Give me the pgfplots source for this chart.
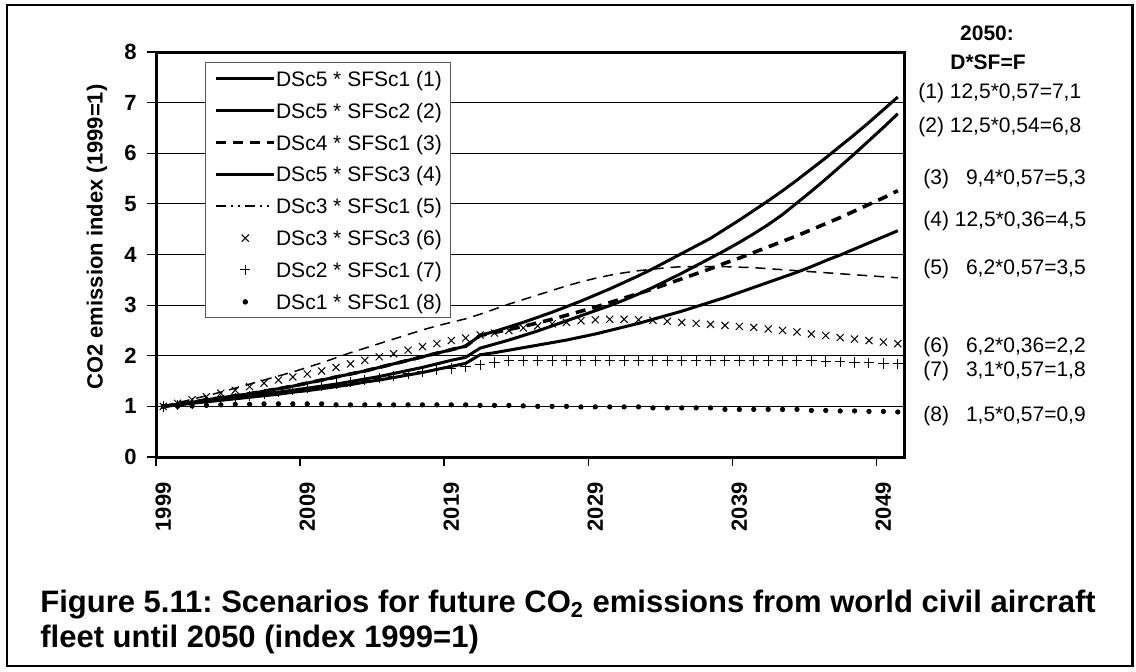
\documentclass[border=0pt]{standalone}
\usepackage{fontspec}
\setmainfont{Liberation Sans}
\usepackage{pgfplots}
\usepackage{pgfplotstable}
\pgfplotsset{compat=1.18}
\frenchspacing

\pgfplotstableread{
i s1 s2 s3 s4 s5 s6 s7 s8
0 1.00 1.00 1.00 1.00 1.00 1.00 1.00 1.00
1 1.04 1.04 1.04 1.03 1.07 1.06 1.03 1.00
2 1.08 1.07 1.08 1.06 1.14 1.13 1.06 1.01
3 1.13 1.11 1.13 1.09 1.21 1.19 1.09 1.02
4 1.17 1.15 1.17 1.12 1.28 1.26 1.12 1.03
5 1.21 1.18 1.21 1.15 1.36 1.32 1.16 1.04
6 1.25 1.21 1.25 1.18 1.44 1.39 1.20 1.04
7 1.30 1.25 1.30 1.21 1.52 1.46 1.24 1.05
8 1.35 1.28 1.35 1.24 1.60 1.52 1.28 1.05
9 1.40 1.32 1.40 1.28 1.68 1.58 1.32 1.05
10 1.46 1.36 1.46 1.31 1.77 1.64 1.36 1.05
11 1.52 1.40 1.52 1.35 1.86 1.70 1.40 1.05
12 1.58 1.44 1.58 1.39 1.96 1.77 1.44 1.03
13 1.64 1.49 1.64 1.43 2.06 1.84 1.48 1.03
14 1.70 1.54 1.70 1.48 2.15 1.91 1.52 1.03
15 1.77 1.59 1.77 1.52 2.24 1.98 1.56 1.03
16 1.84 1.65 1.84 1.57 2.33 2.04 1.60 1.03
17 1.91 1.71 1.91 1.62 2.42 2.11 1.64 1.03
18 1.98 1.77 1.98 1.67 2.51 2.18 1.68 1.03
19 2.05 1.84 2.05 1.73 2.59 2.24 1.72 1.03
20 2.12 1.91 2.12 1.79 2.66 2.30 1.75 1.03
21 2.19 1.97 2.19 1.85 2.73 2.35 1.78 1.03
22 2.40 2.15 2.40 2.02 2.82 2.41 1.82 1.02
23 2.48 2.23 2.46 2.06 2.92 2.45 1.87 1.02
24 2.57 2.31 2.52 2.11 3.02 2.50 1.90 1.02
25 2.66 2.40 2.58 2.16 3.11 2.55 1.91 1.01
26 2.76 2.49 2.65 2.21 3.20 2.59 1.91 1.00
27 2.86 2.59 2.72 2.26 3.29 2.63 1.91 1.00
28 2.97 2.69 2.80 2.31 3.38 2.66 1.91 1.00
29 3.08 2.79 2.88 2.37 3.46 2.69 1.91 0.99
30 3.20 2.89 2.96 2.43 3.53 2.71 1.91 0.99
31 3.32 2.99 3.05 2.50 3.59 2.72 1.91 0.99
32 3.45 3.10 3.14 2.57 3.64 2.72 1.91 0.99
33 3.58 3.22 3.23 2.64 3.68 2.71 1.91 0.99
34 3.72 3.35 3.32 2.72 3.71 2.70 1.91 0.97
35 3.87 3.49 3.42 2.80 3.74 2.68 1.91 0.97
36 4.02 3.63 3.52 2.88 3.76 2.66 1.91 0.97
37 4.17 3.78 3.62 2.97 3.76 2.64 1.91 0.97
38 4.32 3.93 3.72 3.06 3.76 2.62 1.91 0.97
39 4.50 4.08 3.83 3.15 3.76 2.60 1.91 0.94
40 4.68 4.24 3.93 3.25 3.75 2.58 1.91 0.94
41 4.87 4.41 4.04 3.35 3.74 2.56 1.91 0.94
42 5.06 4.59 4.15 3.45 3.72 2.53 1.91 0.94
43 5.26 4.79 4.26 3.55 3.70 2.50 1.91 0.94
44 5.47 5.02 4.37 3.65 3.68 2.47 1.91 0.94
45 5.69 5.25 4.49 3.76 3.66 2.43 1.90 0.92
46 5.91 5.49 4.61 3.88 3.64 2.40 1.89 0.92
47 6.14 5.74 4.73 3.99 3.62 2.36 1.88 0.91
48 6.37 5.99 4.86 4.11 3.60 2.33 1.87 0.91
49 6.61 6.25 4.99 4.23 3.58 2.30 1.86 0.90
50 6.86 6.51 5.12 4.35 3.56 2.27 1.85 0.90
51 7.11 6.78 5.26 4.47 3.54 2.24 1.84 0.89
}\data

\begin{document}
\begin{tikzpicture}
\path[use as bounding box] (0,0) rectangle (568pt,335.5pt);
\draw[line width=1.3pt] (3.5pt,2.5pt) rectangle (566.3pt,333pt);
\begin{axis}[
  at={(78pt,107pt)}, anchor=south west,
  scale only axis, width=374.5pt, height=202.5pt,
  xmin=-0.5, xmax=51.5, ymin=0, ymax=8,
  ytick={0,1,...,8},
  xtick={0,10,20,30,40,50},
  xticklabels={1999,2009,2019,2029,2039,2049},
  minor xtick={-0.5,9.5,19.5,29.5,39.5,49.5},
  every major x tick/.append style={draw=none},
  xtick pos=bottom, ytick pos=left,
  tick align=outside, major tick length=4.5pt, minor tick length=4.5pt,
  tick style={black, line width=0.6pt},
  ymajorgrids, grid style={black, line width=0.5pt},
  axis line style={line width=1.5pt},
  /pgf/number format/assume math mode=true,
  ticklabel style={font=\bfseries\fontsize{11}{13}\selectfont},
  xticklabel style={rotate=90, anchor=east, inner sep=0pt},
  yticklabel style={inner sep=0pt},
  xticklabel shift=8pt, yticklabel shift=5pt,
  ylabel={CO2 emission index (1999=1)},
  ylabel style={font=\bfseries\fontsize{11}{13}\selectfont, at={(axis description cs:-0.079,0.543)}, anchor=center},
  legend cell align=left,
  legend image code/.code={\draw[#1] (0pt,0pt) -- (29pt,0pt);},
  legend style={at={(axis description cs:0.0654,0.975)}, anchor=north west,
    font=\fontsize{10.5}{12.6}\selectfont, draw=black!65, line width=0.5pt, fill=white,
    inner xsep=4.5pt, inner ysep=0pt, row sep=0pt,
    /tikz/every even column/.append style={column sep=2.5pt},
    nodes={inner sep=0pt, text height=11.8pt, text depth=4.15pt}},
]
\addplot[black, line width=1.5pt] table[x=i, y=s1] {\data};
\addlegendentry{DSc5 * SFSc1 (1)}
\addplot[black, line width=1.5pt] table[x=i, y=s2] {\data};
\addlegendentry{DSc5 * SFSc2 (2)}
\addplot[black, line width=1.8pt, dash pattern=on 5pt off 3.5pt] table[x=i, y=s3] {\data};
\addlegendentry{DSc4 * SFSc1 (3)}
\addplot[black, line width=1.5pt] table[x=i, y=s4] {\data};
\addlegendentry{DSc5 * SFSc3 (4)}
\addplot[black, line width=0.75pt, dash pattern=on 5pt off 3.5pt,
  legend image code/.code={\draw[black, line width=0.75pt, dash pattern=on 5pt off 2.5pt on 1pt off 2.5pt on 1pt off 2.5pt] (0pt,0pt) -- (29pt,0pt);}] table[x=i, y=s5] {\data};
\addlegendentry{DSc3 * SFSc1 (5)}
\addplot[black, only marks, mark=x, mark size=2.5pt, mark options={line width=0.5pt},
  legend image code/.code={\path[draw=none, fill=none] (0pt,-1pt) rectangle (29pt,1pt);\path[draw=black, line width=0.5pt] plot[only marks, mark=x, mark size=2.5pt] coordinates {(14.5pt,0pt)};}] table[x=i, y=s6] {\data};
\addlegendentry{DSc3 * SFSc3 (6)}
\addplot[black, only marks, mark=+, mark size=2.6pt, mark options={line width=0.5pt},
  legend image code/.code={\path[draw=none, fill=none] (0pt,-1pt) rectangle (29pt,1pt);\path[draw=black, line width=0.5pt] plot[only marks, mark=+, mark size=2.6pt] coordinates {(14.5pt,0pt)};}] table[x=i, y=s7] {\data};
\addlegendentry{DSc2 * SFSc1 (7)}
\addplot[black, only marks, mark=*, mark size=1.1pt,
  legend image code/.code={\path[draw=none, fill=none] (0pt,-1pt) rectangle (29pt,1pt);\path[draw=black, fill=black] plot[only marks, mark=*, mark size=1.1pt] coordinates {(14.5pt,0pt)};}] table[x=i, y=s8] {\data};
\addlegendentry{DSc1 * SFSc1 (8)}
\end{axis}
\begin{scope}[every node/.style={font=\fontsize{10.5}{12.6}\selectfont, inner sep=0pt, anchor=west}]
\node[font=\bfseries\fontsize{10.5}{12.6}\selectfont, anchor=center] at (493.5pt,319pt) {2050:};
\node[font=\bfseries\fontsize{10.5}{12.6}\selectfont, anchor=center] at (494pt,304.5pt) {D*SF=F};
\node at (459pt,289pt) {(1) 12,5*0,57=7,1};
\node at (459pt,272pt) {(2) 12,5*0,54=6,8};
\node at (461.5pt,246pt) {(3)\hspace{8.5pt}9,4*0,57=5,3};
\node at (461.5pt,225pt) {(4) 12,5*0,36=4,5};
\node at (461.5pt,201pt) {(5)\hspace{8.5pt}6,2*0,57=3,5};
\node at (461.5pt,162pt) {(6)\hspace{8.5pt}6,2*0,36=2,2};
\node at (461.5pt,150pt) {(7)\hspace{8.5pt}3,1*0,57=1,8};
\node at (461.5pt,127.5pt) {(8)\hspace{8.5pt}1,5*0,57=0,9};
\end{scope}
\begin{scope}[every node/.style={font=\bfseries\fontsize{15.5}{17.5}\selectfont, inner sep=0pt, anchor=base west}]
\node at (20pt,29.5pt) {Figure 5.11: Scenarios for future CO\textsubscript{2} emissions from world civil aircraft};
\node at (20pt,12pt) {fleet until 2050 (index 1999=1)};
\end{scope}
\end{tikzpicture}
\end{document}
